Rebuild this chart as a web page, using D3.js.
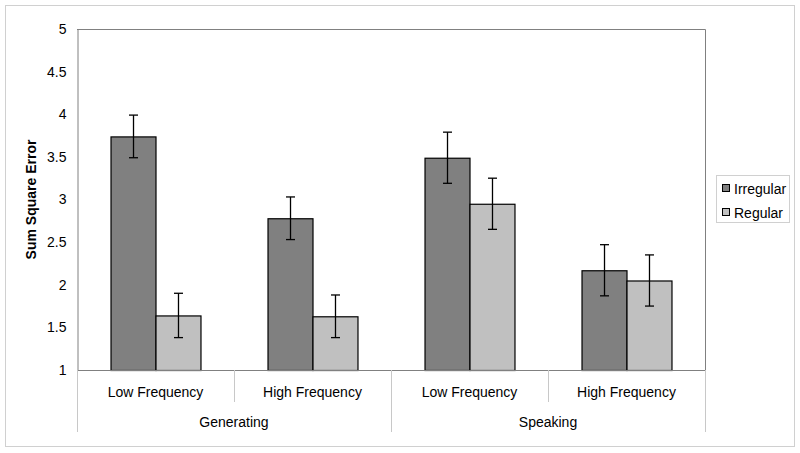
<!DOCTYPE html>
<html><head><meta charset="utf-8">
<script src="https://cdn.jsdelivr.net/npm/d3@7"></script>
<style>body{margin:0;background:#fff}svg{display:block}text{font-family:"Liberation Sans",Arial,sans-serif;fill:#000}</style>
</head><body><svg id="c" width="800" height="453"></svg>
<script>
const groups = ["Generating", "Speaking"];
const subCats = ["Low Frequency", "High Frequency"];
const categories = ["Gen-Low", "Gen-High", "Spk-Low", "Spk-High"];
const seriesNames = ["Irregular", "Regular"];
const irregular = [3.74, 2.78, 3.49, 2.17];
const regular = [1.64, 1.63, 2.95, 2.05];
const irregularErr = [0.25, 0.25, 0.30, 0.30];
const regularErr = [0.26, 0.25, 0.30, 0.30];
const yTicks = [1, 1.5, 2, 2.5, 3, 3.5, 4, 4.5, 5];
const colors = ["#808080", "#c0c0c0"];

const svg = d3.select("#c");
const L = 77, R = 705, T = 29, B = 370;
const FS = "14px";

svg.append("rect").attr("x", 5.5).attr("y", 5.5).attr("width", 789).attr("height", 441)
  .attr("fill", "#fff").attr("stroke", "#d0d0d0");

const y = d3.scaleLinear().domain([1, 5]).range([B, T]);
const x0 = d3.scaleBand().domain(categories).range([L, R]);
const x1 = d3.scaleBand().domain(seriesNames).range([0, x0.bandwidth()]).paddingOuter(0.745).paddingInner(0);

// plot border (top/right)
svg.append("path").attr("d", `M${L},${T + 0.5}H${R + 0.5}V${B}`).attr("fill", "none").attr("stroke", "#808080");

// y axis
const yAxis = svg.append("g").attr("transform", `translate(${L + 0.5},0)`)
  .call(d3.axisLeft(y).tickValues(yTicks).tickSize(0).tickPadding(11).tickFormat(d3.format("")));
yAxis.select(".domain").attr("stroke", "#808080");
yAxis.selectAll("text").style("font-size", FS).attr("fill", "#000");

svg.append("text").attr("transform", `translate(36,${(T + B) / 2}) rotate(-90)`)
  .attr("text-anchor", "middle").style("font-size", FS).style("font-weight", "bold").text("Sum Square Error");

// bars
const data = categories.map((c, i) => ({c, vals: [
  {s: seriesNames[0], v: irregular[i], e: irregularErr[i]},
  {s: seriesNames[1], v: regular[i], e: regularErr[i]}]}));

const cg = svg.append("g").selectAll("g").data(data).join("g")
  .attr("transform", d => `translate(${x0(d.c)},0)`);
cg.selectAll("rect").data(d => d.vals).join("rect")
  .attr("x", d => x1(d.s) + 0.5).attr("y", d => y(d.v) + 0.5)
  .attr("width", x1.bandwidth()).attr("height", d => B - y(d.v))
  .attr("fill", (d, i) => colors[i]).attr("stroke", "#000").attr("stroke-width", 1.2);
const eb = cg.selectAll("g.err").data(d => d.vals).join("g").attr("class", "err")
  .attr("transform", d => `translate(${x1(d.s) + x1.bandwidth() / 2 + 0.5},0)`);
eb.append("line").attr("y1", d => y(d.v + d.e)).attr("y2", d => y(d.v - d.e)).attr("stroke", "#000").attr("stroke-width", 1.3);
eb.append("line").attr("x1", -4.5).attr("x2", 4.5).attr("y1", d => y(d.v + d.e)).attr("y2", d => y(d.v + d.e)).attr("stroke", "#000").attr("stroke-width", 1.3);
eb.append("line").attr("x1", -4.5).attr("x2", 4.5).attr("y1", d => y(d.v - d.e)).attr("y2", d => y(d.v - d.e)).attr("stroke", "#000").attr("stroke-width", 1.3);

// x axis
svg.append("line").attr("x1", L).attr("x2", R + 0.5).attr("y1", B + 0.5).attr("y2", B + 0.5).attr("stroke", "#808080");
categories.forEach((c, i) => {
  const xl = Math.round(x0(c)) + 0.5;
  const long = i % 2 === 0;
  svg.append("line").attr("x1", xl).attr("x2", xl).attr("y1", B).attr("y2", long ? 432 : 402).attr("stroke", "#c8c8c8");
  svg.append("text").attr("x", x0(c) + x0.bandwidth() / 2).attr("y", 396.5).attr("text-anchor", "middle")
    .style("font-size", FS).text(subCats[i % 2]);
});
svg.append("line").attr("x1", R + 0.5).attr("x2", R + 0.5).attr("y1", B).attr("y2", 432).attr("stroke", "#c8c8c8");
groups.forEach((g, gi) => {
  const xa = x0(categories[gi * 2]), xb = x0(categories[gi * 2 + 1]) + x0.bandwidth();
  svg.append("text").attr("x", (xa + xb) / 2).attr("y", 426.5).attr("text-anchor", "middle")
    .style("font-size", FS).text(g);
});

// legend
const lg = svg.append("g");
lg.append("rect").attr("x", 716.5).attr("y", 175.5).attr("width", 73).attr("height", 47).attr("fill", "#fff").attr("stroke", "#d0d0d0");
seriesNames.forEach((s, i) => {
  const yy = 189 + i * 24;
  lg.append("rect").attr("x", 722.5).attr("y", yy - 4.5).attr("width", 7).attr("height", 7).attr("fill", colors[i]).attr("stroke", "#000");
  lg.append("text").attr("x", 734).attr("y", yy + 5).style("font-size", FS).text(s);
});
</script></body></html>
